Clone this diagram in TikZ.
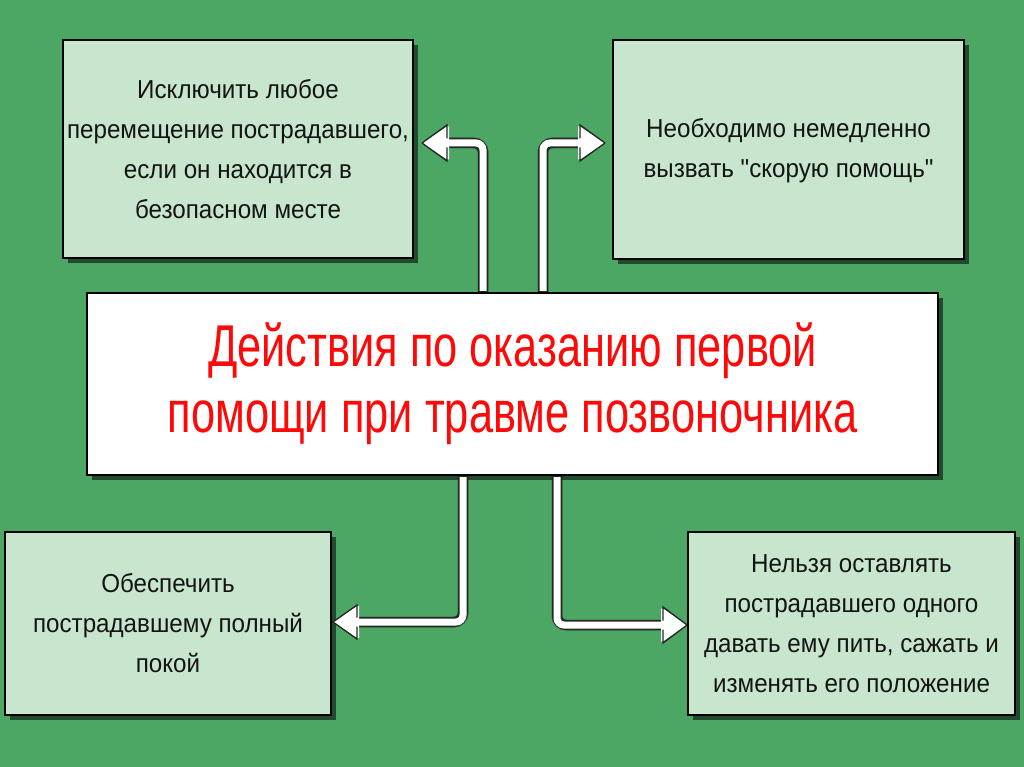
\documentclass[tikz,border=0pt]{standalone}
\usepackage{fontspec}
\setmainfont[FakeStretch=0.8]{Liberation Sans}
\newfontfamily\boxfont[FakeStretch=0.93,Ligatures=TeXOff]{Liberation Sans}
\newfontfamily\titlefont[FakeStretch=0.735]{Liberation Sans}
\usetikzlibrary{shadows,calc}
\definecolor{bggreen}{RGB}{76,166,100}
\definecolor{boxfill}{RGB}{200,230,206}
\definecolor{titlered}{RGB}{255,8,8}
\tikzset{
  infobox/.style={draw=black, line width=2.2pt, fill=boxfill, align=center,
    inner sep=0pt, text=black!92,
    font=\boxfont\fontsize{26}{40}\selectfont,
    drop shadow={shadow xshift=5pt, shadow yshift=-5pt, opacity=0.55, fill=black}},
  mainbox/.style={draw=black, line width=2.2pt, fill=white, align=center,
    inner sep=0pt, text=titlered,
    font=\titlefont\fontsize{59}{66}\selectfont,
    drop shadow={shadow xshift=5pt, shadow yshift=-5pt, opacity=0.55, fill=black}},
  shaftshadow/.style={line width=11pt, black, opacity=0.35, rounded corners=9pt},
  shaftout/.style={line width=10pt, black!85, rounded corners=9pt},
  shaftin/.style={line width=7pt, white, rounded corners=7pt},
  headstyle/.style={draw=black!85, line width=1.3pt, line join=miter},
}
\begin{document}
\begin{tikzpicture}[x=1pt,y=-1pt]
\fill[bggreen] (0,0) rectangle (1024,767);
\useasboundingbox (0,0) rectangle (1024,767);

% nodes
\node[infobox, minimum width=350pt, minimum height=218pt] (tl) at (238,149)
  {Исключить любое\\перемещение пострадавшего,\\если он находится в\\безопасном месте};
\node[infobox, minimum width=351pt, minimum height=219pt] (tr) at (788.5,149.5)
  {\raisebox{19pt}{\begin{tabular}{@{}c@{}}Необходимо немедленно\\вызвать "скорую помощь"\end{tabular}}};
\node[mainbox, minimum width=851pt, minimum height=182pt] (main) at (512.5,384)
  {Действия по оказанию первой\\помощи при травме позвоночника};
\node[infobox, minimum width=326pt, minimum height=183pt] (bl) at (168,623.5)
  {Обеспечить\\пострадавшему полный\\покой};
\node[infobox, minimum width=327pt, minimum height=183pt] (br) at (851.5,623.5)
  {Нельзя оставлять\\пострадавшего одного\\давать ему пить, сажать и\\изменять его положение};

% arrow geometry
\coordinate (v1) at (483,0);   \coordinate (b1) at (447,143); \coordinate (t1) at (422,143);
\coordinate (v2) at (543,0);   \coordinate (b2) at (580,143); \coordinate (t2) at (605,143);
\coordinate (v3) at (463,0);   \coordinate (b3) at (357,622); \coordinate (t3) at (333,622);
\coordinate (v4) at (557,0);   \coordinate (b4) at (663,625); \coordinate (t4) at (687,625);

% shadows of arrows
\begin{scope}[shift={(3,3)}]
  \draw[shaftshadow] (main.north -| v1) |- (b1);
  \draw[shaftshadow] (main.north -| v2) |- (b2);
  \draw[shaftshadow] (main.south -| v3) |- (b3);
  \draw[shaftshadow] (main.south -| v4) |- (b4);
  \fill[black, opacity=0.35] (t1) -- ($(b1)+(0,-18)$) -- ($(b1)+(0,18)$) -- cycle;
  \fill[black, opacity=0.35] (t2) -- ($(b2)+(0,-18)$) -- ($(b2)+(0,18)$) -- cycle;
  \fill[black, opacity=0.35] (t3) -- ($(b3)+(0,-17)$) -- ($(b3)+(0,17)$) -- cycle;
  \fill[black, opacity=0.35] (t4) -- ($(b4)+(0,-18)$) -- ($(b4)+(0,18)$) -- cycle;
\end{scope}

% shafts
\draw[shaftout] (main.north -| v1) |- ($(b1)+(-2,0)$);
\draw[shaftout] (main.north -| v2) |- ($(b2)+(2,0)$);
\draw[shaftout] (main.south -| v3) |- ($(b3)+(-2,0)$);
\draw[shaftout] (main.south -| v4) |- ($(b4)+(2,0)$);
\draw[shaftin] ($(main.north -| v1)+(0,-1)$) |- ($(b1)+(-3,0)$);
\draw[shaftin] ($(main.north -| v2)+(0,-1)$) |- ($(b2)+(3,0)$);
\draw[shaftin] ($(main.south -| v3)+(0,1)$) |- ($(b3)+(-3,0)$);
\draw[shaftin] ($(main.south -| v4)+(0,1)$) |- ($(b4)+(3,0)$);

% heads
\fill[white] (t1) -- ($(b1)+(0,-16.5)$) -- ($(b1)+(2,-16.5)$) -- ($(b1)+(2,16.5)$) -- ($(b1)+(0,16.5)$) -- cycle;
\draw[headstyle] (t1) -- ($(b1)+(0,-18)$) -- ($(b1)+(0,-4.5)$);
\draw[headstyle] (t1) -- ($(b1)+(0,18)$) -- ($(b1)+(0,4.5)$);

\fill[white] (t2) -- ($(b2)+(0,-16.5)$) -- ($(b2)+(-2,-16.5)$) -- ($(b2)+(-2,16.5)$) -- ($(b2)+(0,16.5)$) -- cycle;
\draw[headstyle] (t2) -- ($(b2)+(0,-18)$) -- ($(b2)+(0,-4.5)$);
\draw[headstyle] (t2) -- ($(b2)+(0,18)$) -- ($(b2)+(0,4.5)$);

\fill[white] (t3) -- ($(b3)+(0,-16)$) -- ($(b3)+(2,-16)$) -- ($(b3)+(2,16)$) -- ($(b3)+(0,16)$) -- cycle;
\draw[headstyle] (t3) -- ($(b3)+(0,-17)$) -- ($(b3)+(0,-4.5)$);
\draw[headstyle] (t3) -- ($(b3)+(0,17)$) -- ($(b3)+(0,4.5)$);

\fill[white] (t4) -- ($(b4)+(0,-16.5)$) -- ($(b4)+(-2,-16.5)$) -- ($(b4)+(-2,16.5)$) -- ($(b4)+(0,16.5)$) -- cycle;
\draw[headstyle] (t4) -- ($(b4)+(0,-18)$) -- ($(b4)+(0,-4.5)$);
\draw[headstyle] (t4) -- ($(b4)+(0,18)$) -- ($(b4)+(0,4.5)$);
\end{tikzpicture}
\end{document}
